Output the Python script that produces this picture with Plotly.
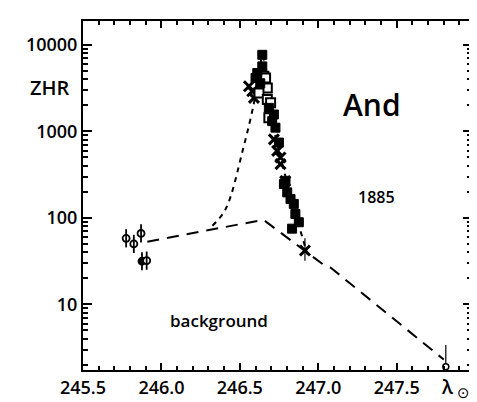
import plotly.graph_objects as go

# --- data (solar longitude, ZHR) ---
filled_x = [246.643, 246.643, 246.611, 246.600, 246.630, 246.685, 246.706, 246.717, 246.727,
            246.749, 246.791, 246.781, 246.802, 246.823, 246.844, 246.854, 246.876, 246.833]
filled_y = [7674, 5636, 4733, 4143, 3600, 1870, 1313, 1567, 1103,
            742, 268, 246, 197, 165, 145, 111, 89, 75]

open_x = [246.653, 246.664, 246.675, 246.622, 246.675, 246.696, 246.685]
open_y = [4330, 4140, 3177, 2785, 2334, 2138, 1437]

cross_x = [246.558, 246.579, 246.590, 246.717, 246.738, 246.759, 246.759, 246.789]
cross_y = [3320, 2905, 2437, 809, 594, 499, 418, 266]

crossbar_x = [246.915]
crossbar_y = [42]
crossbar_up = [16]
crossbar_dn = [10]

phi_x = [245.775, 245.824, 245.870]
phi_y = [58, 50, 66]
phi_fill_x = [245.876]
phi_fill_y = [31.5]
phi_open2_x = [245.906]
phi_open2_y = [32]

late_x = [247.813]
late_y = [1.9]
late_up = [1.5]

bg_x = [245.91, 246.65, 247.03, 247.08, 247.80]
bg_y = [53, 95, 29, 26.5, 2.3]

peak_x = [246.325, 246.41, 246.52, 246.59, 246.625, 246.645, 246.70, 246.76, 246.84, 246.93]
peak_y = [81, 127, 620, 2140, 5000, 7500, 1500, 500, 140, 38]

x_ticks = [245.5, 246.0, 246.5, 247.0, 247.5]
x_labels = ["245.5", "246.0", "246.5", "247.0", "247.5"]
y_ticks = [10, 100, 1000, 10000]
y_labels = ["10", "100", "1000", "10000"]
y_minor = [m * d for d in [1, 10, 100, 1000, 10000] for m in range(2, 10)]

FONT = "Open Sans"
W = 600
fig = go.Figure()

fig.add_trace(go.Scatter(x=bg_x, y=bg_y, mode="lines",
                         line=dict(color="black", width=2, dash="12px,8px")))
fig.add_trace(go.Scatter(x=peak_x, y=peak_y, mode="lines", line_shape="spline",
                         line=dict(color="black", width=2, dash="5px,5px")))

fig.add_trace(go.Scatter(x=cross_x, y=cross_y, mode="markers",
                         marker=dict(symbol="x-thin-open", size=10, color="black",
                                     line=dict(color="black", width=3))))
fig.add_trace(go.Scatter(x=crossbar_x, y=crossbar_y, mode="markers",
                         error_y=dict(type="data", symmetric=False, array=crossbar_up,
                                      arrayminus=crossbar_dn, color="black", thickness=1.2, width=0),
                         marker=dict(symbol="x-thin-open", size=10, color="black",
                                     line=dict(color="black", width=3))))
fig.add_trace(go.Scatter(x=open_x, y=open_y, mode="markers",
                         marker=dict(symbol="square", size=9, color="white",
                                     line=dict(color="black", width=2))))
fig.add_trace(go.Scatter(x=filled_x, y=filled_y, mode="markers",
                         marker=dict(symbol="square", size=9, color="black",
                                     line=dict(color="black", width=1))))

# phi-like symbols: circle with a vertical bar
for xs, ys, fillc in [(phi_x, phi_y, "white"), (phi_fill_x, phi_fill_y, "black"),
                      (phi_open2_x, phi_open2_y, "white")]:
    fig.add_trace(go.Scatter(x=xs, y=ys, mode="markers",
                             marker=dict(symbol="circle", size=7, color=fillc,
                                         line=dict(color="black", width=1.8))))
    fig.add_trace(go.Scatter(x=xs, y=ys, mode="markers",
                             marker=dict(symbol="line-ns-open", size=13, color="black",
                                         line=dict(color="black", width=1.8))))

fig.add_trace(go.Scatter(x=late_x, y=late_y, mode="markers",
                         error_y=dict(type="data", symmetric=False, array=late_up,
                                      arrayminus=[0], color="black", thickness=1.2, width=0),
                         marker=dict(symbol="circle", size=6, color="white",
                                     line=dict(color="black", width=1.5))))

fig.update_layout(
    width=477, height=402, showlegend=False,
    paper_bgcolor="white", plot_bgcolor="white",
    margin=dict(l=75, r=11, t=11, b=40),
    font=dict(family=FONT, color="black", size=16, weight=W),
    xaxis=dict(range=[245.5, 247.98], tickvals=x_ticks, ticktext=x_labels,
               showgrid=False, zeroline=False, showline=True, linewidth=2, linecolor="black",
               mirror="ticks", ticks="inside", ticklen=7, tickwidth=1.5, tickcolor="black",
               minor=dict(dtick=0.1, tick0=245.5, ticks="inside", ticklen=4, tickwidth=1.5,
                          tickcolor="black"),
               tickfont=dict(size=18, family=FONT, weight=W)),
    yaxis=dict(type="log", range=[0.241, 4.276], tickvals=y_ticks, ticktext=y_labels,
               showgrid=False, zeroline=False, showline=True, linewidth=2, linecolor="black",
               mirror="ticks", ticks="inside", ticklen=9, tickwidth=1.5, tickcolor="black",
               minor=dict(tickvals=y_minor, ticks="inside", ticklen=5, tickwidth=1.5,
                          tickcolor="black"),
               tickfont=dict(size=18, family=FONT, weight=W)),
)

def note(text, x, y, size, family=FONT, weight=W, xanchor="center"):
    fig.add_annotation(text=text, xref="paper", yref="paper", x=x, y=y, showarrow=False,
                       font=dict(size=size, family=family, weight=weight),
                       xanchor=xanchor, yanchor="middle", borderpad=0)

note("ZHR", -0.03, 0.809, 20, xanchor="right")
note("And", 0.744, 0.76, 30)
note("1885", 0.754, 0.496, 16)
note("background", 0.35, 0.142, 17)
note("λ", 0.936, -0.048, 19)
note("⊙", 0.978, -0.066, 15, family="DejaVu Sans", weight=400)

fig.write_html("out.html")
